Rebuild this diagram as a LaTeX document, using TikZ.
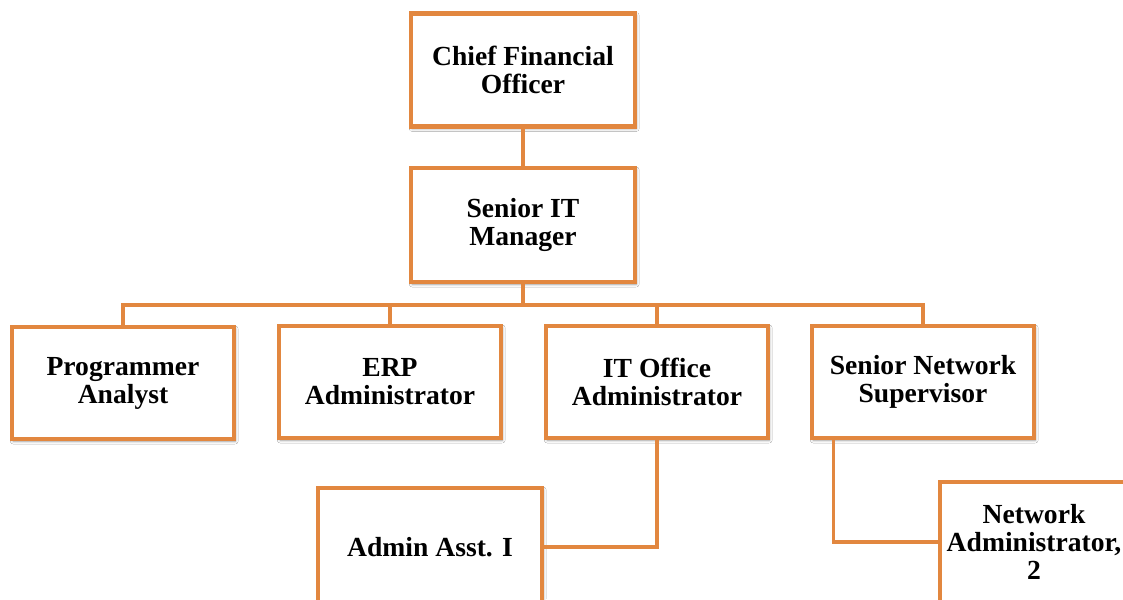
\documentclass[tikz,border=0pt]{standalone}
\usepackage{fontspec}
\setmainfont{Liberation Serif}
\usetikzlibrary{shadows.blur}
\definecolor{orgline}{HTML}{E2873F}
\begin{document}
\begin{tikzpicture}[x=0.5pt,y=-0.5pt,
  box/.style={draw=orgline, line width=2.4pt, fill=white, align=center,
    font=\fontsize{13.8}{14}\selectfont\bfseries, inner sep=0pt,
    blur shadow={shadow xshift=0.6pt, shadow yshift=-1pt, shadow blur steps=6, shadow blur radius=1.5pt, shadow opacity=40}},
  link/.style={draw=orgline, line width=1.6pt}]
\useasboundingbox (0,0) rectangle (1123,599);
\clip (0,0) rectangle (1123,599);
\fill[white] (0,0) rectangle (1123,599);
\node[box, minimum width=112pt, minimum height=56.5pt] (cfo) at (523,70) {Chief Financial\\Officer};
\node[box, minimum width=112pt, minimum height=57pt] (sitm) at (523,225) {Senior IT\\Manager};
\node[box, minimum width=111pt, minimum height=56pt] (prog) at (123,383) {Programmer\\Analyst};
\node[box, minimum width=111pt, minimum height=56pt] (erp) at (390,382) {ERP\\Administrator};
\node[box, minimum width=111pt, minimum height=56pt] (ito) at (657,382) {IT Office\\Administrator};
\node[box, minimum width=111pt, minimum height=56pt] (sns) at (923,382) {Senior Network\\Supervisor};
\node[box, minimum width=112pt, minimum height=59pt] (admin) at (430,547) {Admin Asst. I};
\node[box, minimum width=94pt, minimum height=60pt] (net) at (1034,542) {Network\\Administrator,\\2};
\coordinate (bus) at (523,305);
\draw[link] (cfo.south) -- (sitm.north);
\draw[link] (sitm.south) -- (bus);
\draw[link] (prog.north) |- (bus);
\draw[link] (erp.north) |- (bus);
\draw[link] (ito.north) |- (bus);
\draw[link] (sns.north) |- (bus);
\draw[link] (ito.south) |- (admin.east);
\draw[link] (sns.south west) ++(24,0) |- (net.west);
\end{tikzpicture}
\end{document}
